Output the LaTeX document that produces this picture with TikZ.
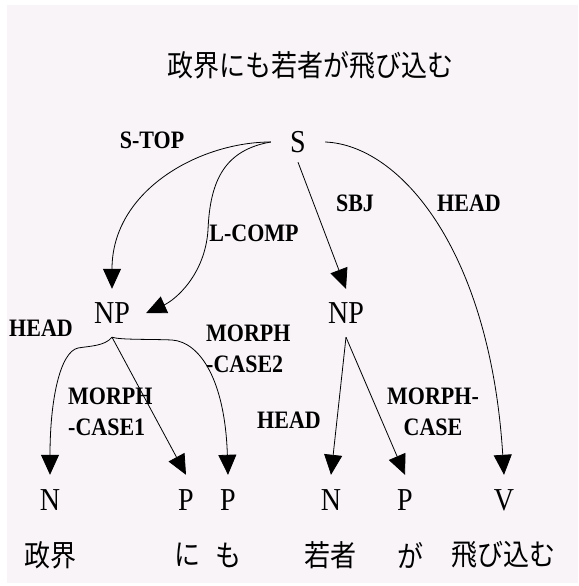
\documentclass[tikz,border=0pt]{standalone}
\usepackage{fontspec}
\setmainfont{Liberation Serif}
\newfontfamily\jp{Noto Sans CJK JP}
\usetikzlibrary{arrows.meta}
\definecolor{bgc}{RGB}{248,244,248}
\newcommand{\tl}[1]{\scalebox{1}[1.14]{#1}}
\begin{document}
\begin{tikzpicture}[x=1pt,y=-1pt,
  cat/.style={font=\fontsize{28}{30}\selectfont, inner sep=0pt, minimum height=50pt},
  lbl/.style={font=\fontsize{22}{31}\selectfont\bfseries, inner sep=0pt},
  jpw/.style={font=\jp\fontsize{26}{28}\selectfont, inner sep=0pt},
  edge/.style={line width=0.8pt, -{Triangle[length=20pt,width=18pt]}}]
\useasboundingbox (0,0) rectangle (578,586);
\fill[white] (0,0) rectangle (578,586);
\fill[bgc] (7,5) rectangle (578,583);

% title
\node[jpw] (title) at (310,65) {\tl{政界にも若者が飛び込む}};

% phrase nodes
\node[cat, minimum width=54pt, minimum height=40pt] (S) at (298,142) {\tl{S}};
\node[cat, minimum width=68pt, minimum height=48pt] (NP1) at (112,313) {\tl{NP}};
\node[cat, minimum height=48pt] (NP2) at (346,313) {\tl{NP}};

% categories
\node[cat] (N1) at (50,500) {\tl{N}};
\node[cat] (P1) at (186,500) {\tl{P}};
\node[cat] (P2) at (228,500) {\tl{P}};
\node[cat] (N2) at (331,500) {\tl{N}};
\node[cat] (P3) at (405,500) {\tl{P}};
\node[cat] (V) at (504,500) {\tl{V}};

% words
\node[jpw] (w1) at (50,555) {\tl{政界}};
\node[jpw] (w2) at (187,555) {\tl{に}};
\node[jpw] (w3) at (228,555) {\tl{も}};
\node[jpw] (w4) at (330,555) {\tl{若者}};
\node[jpw] (w5) at (410,555) {\tl{が}};
\node[jpw] (w6) at (503,555) {\tl{飛び込む}};

% edge labels
\node[lbl] (lstop) at (152,140) {\tl{S-TOP}};
\node[lbl] (llcomp) at (254,233) {\tl{L-COMP}};
\node[lbl] (lsbj) at (355,203) {\tl{SBJ}};
\node[lbl] (lheadv) at (469,203) {\tl{HEAD}};
\node[lbl] (lheadn1) at (41,328) {\tl{HEAD}};
\node[lbl, align=left, anchor=west] (lmc2) at (206,349) {\tl{MORPH}\\\tl{-CASE2}};
\node[lbl, align=left, anchor=west] (lmc1) at (68,412) {\tl{MORPH}\\\tl{-CASE1}};
\node[lbl] (lheadn2) at (289,420) {\tl{HEAD}};
\node[lbl, align=center] (lmc) at (433,412) {\tl{MORPH-}\\\tl{CASE}};

% connectors
\draw[edge] (S.west) .. controls (200,142) and (112,190) .. (NP1.north);
\draw[edge] (S.west) .. controls (225,150) and (210,180) .. (208,230)
            .. controls (205,275) and (175,300) .. (NP1.east);
\draw[edge] (S.south) -- (NP2.north);
\draw[edge] (S.east) .. controls (400,145) and (490,250) .. (V.north);
\draw[edge] (NP1.south) .. controls (105,346) and (90,346) .. (78,348)
            .. controls (60,352) and (50,400) .. (N1.north);
\draw[edge] (NP1.south) -- (P1.north);
\draw[edge] (NP1.south) .. controls (120,340) and (150,339) .. (172,340)
            .. controls (200,342) and (225,380) .. (P2.north);
\draw[edge] (NP2.south) -- (N2.north);
\draw[edge] (NP2.south) -- (P3.north);
\end{tikzpicture}
\end{document}
